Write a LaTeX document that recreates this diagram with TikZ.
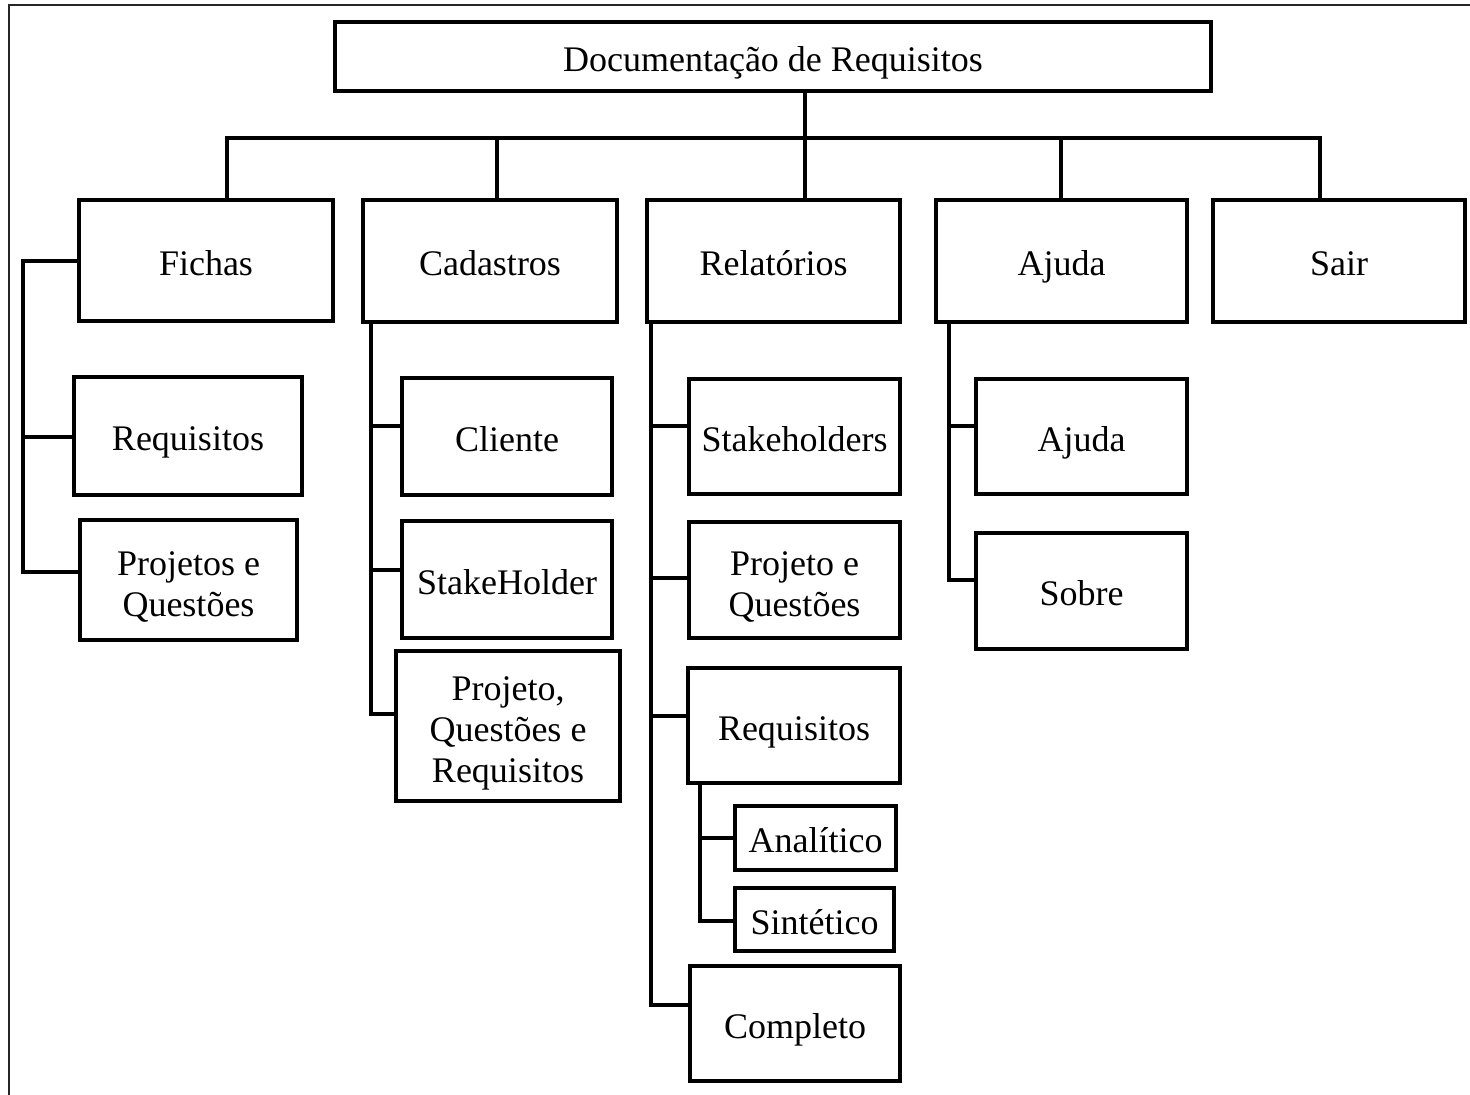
\documentclass[tikz,border=0pt]{standalone}
\usepackage{fontspec}
\setmainfont{Liberation Serif}
\newcommand{\mlines}[1]{\raisebox{0.5pt}[0pt][0pt]{\begin{tabular}{@{}c@{}}#1\end{tabular}}}
\begin{document}
\begin{tikzpicture}[x=1pt,y=-1pt]
\tikzset{
  box/.style={draw, line width=4pt, inner sep=0pt, align=center,
    font=\fontsize{36}{41}\selectfont, text height=36pt, text depth=7pt},
  link/.style={line width=4pt, line cap=rect, line join=miter},
  frameline/.style={line width=1.5pt, black!85}
}
\useasboundingbox (0,0) rectangle (1470,1095);
\draw[frameline] (9,1095) -- (9,5) -- (1470,5);

% nodes
\node[box, minimum width=876pt, minimum height=69pt] (root) at (773,56.5) {Documentação de Requisitos};
\node[box, minimum width=254pt, minimum height=121pt] (fichas) at (206,260.5) {Fichas};
\node[box, minimum width=253.5pt, minimum height=122pt] (cad) at (490,261) {Cadastros};
\node[box, minimum width=253pt, minimum height=122pt] (rel) at (773.5,261) {Relatórios};
\node[box, minimum width=251pt, minimum height=122pt] (aju) at (1061.5,261) {Ajuda};
\node[box, minimum width=252pt, minimum height=122pt] (sair) at (1339,261) {Sair};

\node[box, minimum width=228pt, minimum height=118pt] (freq) at (188,436) {Requisitos};
\node[box, minimum width=217pt, minimum height=120pt] (fprj) at (188.5,580) {\mlines{Projetos e\\Questões}};

\node[box, minimum width=210pt, minimum height=117pt] (cli) at (507,436.5) {Cliente};
\node[box, minimum width=210pt, minimum height=117pt] (stk) at (507,579.5) {StakeHolder};
\node[box, minimum width=224pt, minimum height=150pt] (pqr) at (508,726) {\mlines{Projeto,\\Questões e\\Requisitos}};

\node[box, minimum width=211pt, minimum height=115pt] (rstk) at (794.5,436.5) {Stakeholders};
\node[box, minimum width=211pt, minimum height=116pt] (rpq) at (794.5,580) {\mlines{Projeto e\\Questões}};
\node[box, minimum width=212pt, minimum height=115pt] (rreq) at (794,725.5) {Requisitos};
\node[box, minimum width=161pt, minimum height=64pt] (ana) at (815.5,838) {Analítico};
\node[box, minimum width=159pt, minimum height=63pt] (sin) at (814.5,919.5) {Sintético};
\node[box, minimum width=210pt, minimum height=115pt] (comp) at (795,1023.5) {Completo};

\node[box, minimum width=211pt, minimum height=115pt] (ajh) at (1081.5,436.5) {Ajuda};
\node[box, minimum width=211pt, minimum height=116pt] (sob) at (1081.5,591) {Sobre};

% top bus
\coordinate (bus) at (0,138);
\coordinate (x1) at (227,0);
\coordinate (x2) at (497,0);
\coordinate (x3) at (805,0);
\coordinate (x4) at (1061,0);
\coordinate (x5) at (1320,0);
\draw[link] (x1 |- bus) -- (x5 |- bus);
\draw[link] (x3 |- root.south) -- (x3 |- bus);
\draw[link] (x1 |- bus) -- (x1 |- fichas.north);
\draw[link] (x2 |- bus) -- (x2 |- cad.north);
\draw[link] (x3 |- bus) -- (x3 |- rel.north);
\draw[link] (x4 |- bus) -- (x4 |- aju.north);
\draw[link] (x5 |- bus) -- (x5 |- sair.north);

% Fichas
\coordinate (fb1) at (23,437);
\coordinate (fb2) at (23,572);
\draw[link] (fichas.west) -| (fb2) -- (fb2 -| fprj.west);
\draw[link] (fb1) -- (fb1 -| freq.west);

% Cadastros
\coordinate (cb1) at (371,426);
\coordinate (cb2) at (371,570);
\coordinate (cb3) at (371,714);
\draw[link] (cb1 |- cad.south) -- (cb3) -- (cb3 -| pqr.west);
\draw[link] (cb1) -- (cb1 -| cli.west);
\draw[link] (cb2) -- (cb2 -| stk.west);

% Relatorios
\coordinate (rb1) at (651,426);
\coordinate (rb2) at (651,578);
\coordinate (rb3) at (651,716);
\coordinate (rb4) at (651,1005);
\draw[link] (rb1 |- rel.south) -- (rb4) -- (rb4 -| comp.west);
\draw[link] (rb1) -- (rb1 -| rstk.west);
\draw[link] (rb2) -- (rb2 -| rpq.west);
\draw[link] (rb3) -- (rb3 -| rreq.west);
\coordinate (qb1) at (700,838);
\coordinate (qb2) at (700,921);
\draw[link] (qb1 |- rreq.south) -- (qb2) -- (qb2 -| sin.west);
\draw[link] (qb1) -- (qb1 -| ana.west);

% Ajuda
\coordinate (ab1) at (949,426);
\coordinate (ab2) at (949,580);
\draw[link] (ab1 |- aju.south) -- (ab2) -- (ab2 -| sob.west);
\draw[link] (ab1) -- (ab1 -| ajh.west);
\end{tikzpicture}
\end{document}
